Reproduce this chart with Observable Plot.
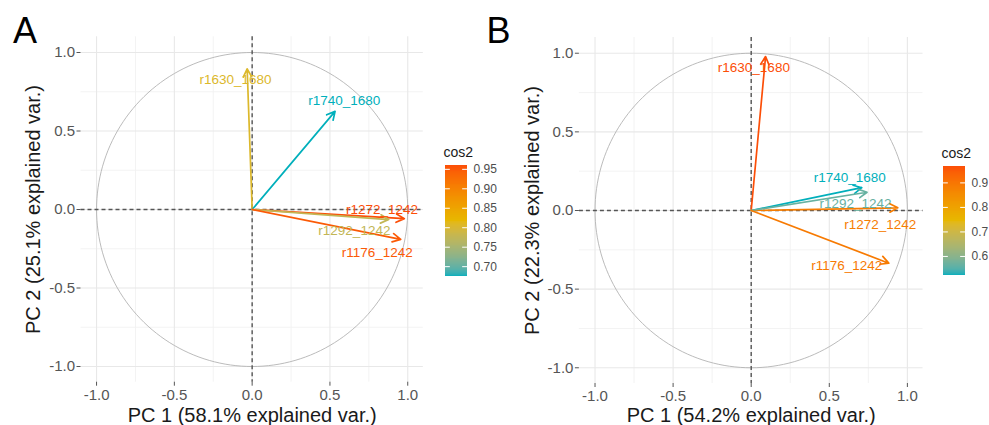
<!DOCTYPE html>
<html><head><meta charset="utf-8">
<script src="https://cdn.jsdelivr.net/npm/d3@7"></script>
<script src="https://cdn.jsdelivr.net/npm/@observablehq/plot@0.6"></script>
<style>
html,body{margin:0;padding:0;background:#fff;}
#root{position:relative;width:989px;height:425px;overflow:hidden;font-family:"Liberation Sans",Arial,sans-serif;}
.abs{position:absolute;}
.abs svg{overflow:visible;max-width:none;background:transparent;}
.letter{position:absolute;font-size:36px;line-height:36px;color:#000;font-family:"Liberation Sans",Arial,sans-serif;}
</style></head><body><div id="root"></div>
<script>
// ---- data ----
const variables = ["r1630_1680","r1740_1680","r1272_1242","r1292_1242","r1176_1242"];
// Panel A (coordinates on PC1 / PC2)
const pcA_x = [-0.032, 0.533, 0.978, 0.878, 0.955];
const pcA_y = [0.896, 0.625, -0.058, -0.064, -0.190];
const labelA_x = [-0.107, 0.592, 0.834, 0.657, 0.804];
const labelA_y = [0.828, 0.694, -0.002, -0.134, -0.274];
// Panel B
const pcB_x = [0.092, 0.708, 0.939, 0.742, 0.881];
const pcB_y = [0.979, 0.145, 0.017, 0.116, -0.335];
const labelB_x = [0.017, 0.631, 0.826, 0.668, 0.612];
const labelB_y = [0.905, 0.208, -0.089, 0.046, -0.350];
const titlesA = ["PC 1 (58.1% explained var.)", "PC 2 (25.1% explained var.)"];
const titlesB = ["PC 1 (54.2% explained var.)", "PC 2 (22.3% explained var.)"];
const majorTicks = [-1, -0.5, 0, 0.5, 1];
const minorTicks = [-0.75, -0.25, 0.25, 0.75];
const legendBreaksA = [0.70, 0.75, 0.80, 0.85, 0.90, 0.95];
const legendBreaksB = [0.6, 0.7, 0.8, 0.9];
const gradientColors = ["#00AFBB", "#E7B800", "#FC4E07"];
const panelLetters = ["A", "B"];

const FONT = '"Liberation Sans", Arial, sans-serif';

function colorScale(vals) {
  const lo = d3.min(vals), hi = d3.max(vals);
  return {type: "linear", domain: [lo, (lo + hi) / 2, hi], range: gradientColors, interpolate: "lab"};
}

function rows(xs, ys, lxs, lys) {
  return variables.map((name, i) => ({name, x: xs[i], y: ys[i], lx: lxs[i], ly: lys[i], cos2: xs[i] ** 2 + ys[i] ** 2}));
}

function makePanel(o) {
  const data = o.data;
  const circle = d3.range(0, 361, 2).map(a => ({cx: Math.cos(a * Math.PI / 180), cy: Math.sin(a * Math.PI / 180)}));
  return Plot.plot({
    width: o.width, height: 425,
    marginLeft: o.ml, marginRight: o.mr, marginTop: o.mt, marginBottom: o.mb,
    x: {domain: [-1.1, 1.1]},
    y: {domain: [-1.1, 1.1]},
    color: colorScale(data.map(d => d.cos2)),
    style: {fontFamily: FONT, background: "transparent", overflow: "visible"},
    marks: [
      Plot.ruleX(minorTicks, {stroke: "#f2f2f2", strokeWidth: 0.9}),
      Plot.ruleY(minorTicks, {stroke: "#f2f2f2", strokeWidth: 0.9}),
      Plot.ruleX(majorTicks, {stroke: "#e8e8e8", strokeWidth: 1.1}),
      Plot.ruleY(majorTicks, {stroke: "#e8e8e8", strokeWidth: 1.1}),
      Plot.line(circle, {x: "cx", y: "cy", stroke: "#b3b3b3", strokeWidth: 0.9}),
      Plot.ruleX([0], {stroke: "#555", strokeDasharray: "4,3", strokeWidth: 1.4}),
      Plot.ruleY([0], {stroke: "#555", strokeDasharray: "4,3", strokeWidth: 1.4}),
      Plot.arrow(data, {x1: 0, y1: 0, x2: "x", y2: "y", stroke: "cos2", strokeWidth: 1.7, headLength: 8, headAngle: 55}),
      Plot.text(data, {x: "lx", y: "ly", text: "name", fill: "cos2", fontSize: 13.5}),
      Plot.axisX({ticks: majorTicks, tickFormat: d => d.toFixed(1), tickSize: 4, tickPadding: 3, fontSize: 15, color: "#555", label: null}),
      Plot.axisY({ticks: majorTicks, tickFormat: d => d.toFixed(1), tickSize: 4, tickPadding: 2, fontSize: 15, color: "#555", label: null}),
      Plot.text([o.titles[0]], {text: d => d, frameAnchor: "bottom", dy: o.xdy, fontSize: 20, fill: "#1a1a1a", lineAnchor: "middle", textAnchor: "middle"}),
      Plot.text([o.titles[1]], {text: d => d, frameAnchor: "left", rotate: -90, dx: o.ydx, fontSize: 20, fill: "#1a1a1a", lineAnchor: "middle", textAnchor: "middle"})
    ]
  });
}

function makeLegend(o) {
  const vals = o.data.map(d => d.cos2);
  const lo = d3.min(vals), hi = d3.max(vals);
  const n = 120;
  const cells = d3.range(n).map(i => ({a: lo + (hi - lo) * i / n, b: lo + (hi - lo) * (i + 1) / n}));
  return Plot.plot({
    width: o.width, height: 150,
    marginLeft: 15, marginRight: o.width - 37, marginTop: o.mt, marginBottom: o.mb,
    x: {domain: [0, 1], axis: null},
    y: {domain: [lo, hi]},
    color: colorScale(vals),
    style: {fontFamily: FONT, background: "transparent", overflow: "visible"},
    marks: [
      Plot.rect(cells, {x1: 0, x2: 1, y1: "a", y2: "b", fill: d => (d.a + d.b) / 2, shapeRendering: "crispEdges"}),
      Plot.ruleY(o.breaks, {y: d => d, x1: 0, x2: 0.22, stroke: "white", strokeWidth: 1}),
      Plot.ruleY(o.breaks, {y: d => d, x1: 0.78, x2: 1, stroke: "white", strokeWidth: 1}),
      Plot.axisY({anchor: "right", ticks: o.breaks, tickFormat: o.fmt, tickSize: 0, tickPadding: 6, fontSize: 12, color: "#4d4d4d", label: null}),
      Plot.text(["cos2"], {text: d => d, frameAnchor: "top-left", dy: -13, dx: -2, textAnchor: "start", fontSize: 14, fill: "#1a1a1a", lineAnchor: "middle"})
    ]
  });
}

const root = document.getElementById("root");
function place(el, left, top) {
  const d = document.createElement("div");
  d.className = "abs";
  d.style.left = left + "px";
  d.style.top = top + "px";
  d.appendChild(el);
  root.appendChild(d);
}

const dataA = rows(pcA_x, pcA_y, labelA_x, labelA_y);
const dataB = rows(pcB_x, pcB_y, labelB_x, labelB_y);

place(makePanel({data: dataA, width: 430, ml: 80.5, mr: 7.2, mt: 36.3, mb: 43.3, xdy: 33.3, ydx: -47.5, titles: titlesA}), 0, 0);
place(makePanel({data: dataB, width: 440, ml: 88.9, mr: 7.5, mt: 37, mb: 42, xdy: 32, ydx: -47.2, titles: titlesB}), 490, 0);
place(makeLegend({data: dataA, width: 70, mt: 30, mb: 9, breaks: legendBreaksA, fmt: d3.format(".2f")}), 430, 135);
place(makeLegend({data: dataB, width: 61, mt: 31, mb: 10, breaks: legendBreaksB, fmt: d3.format(".1f")}), 928, 135);

[[panelLetters[0], 13, 12.8], [panelLetters[1], 486.5, 12.8]].forEach(([t, l, tp]) => {
  const d = document.createElement("div");
  d.className = "letter";
  d.textContent = t;
  d.style.left = l + "px";
  d.style.top = tp + "px";
  root.appendChild(d);
});
</script></body></html>
